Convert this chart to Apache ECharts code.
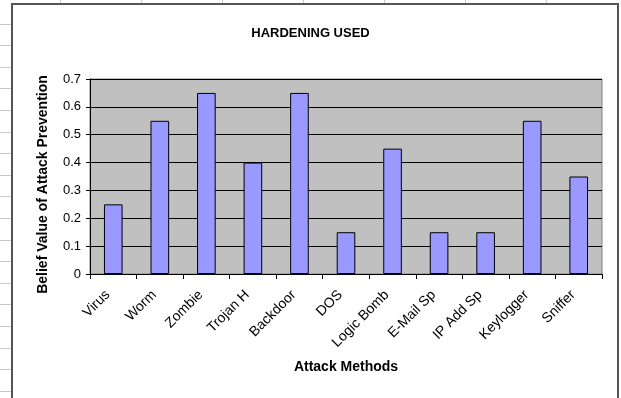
<!DOCTYPE html>
<html>
<head>
<meta charset="utf-8">
<script src="https://cdn.jsdelivr.net/npm/echarts@6/dist/echarts.min.js"></script>
<style>
  html, body { margin: 0; padding: 0; background: #fff; }
  #sheet { position: absolute; left: 0; top: 0; width: 621px; height: 398px; overflow: hidden;
    background:
      repeating-linear-gradient(to bottom, transparent 0, transparent 20.6px, #c8c8c8 20.6px, #c8c8c8 21.6px) 0 3px / 11px 398px no-repeat,
      #fff; }
  #topstrip { position: absolute; left: 0; top: 0; width: 621px; height: 3px;
    background: repeating-linear-gradient(to right, transparent 0, transparent 80px, #c8c8c8 80px, #c8c8c8 81px) -20px 0 / 700px 3px no-repeat, #fff; }
  #frame { position: absolute; left: 11px; top: 3px; width: 604px; height: 400px;
    border-left: 2px solid #555; border-top: 2px solid #555; border-right: 2px solid #555; background: #fff; }
  #chart { position: absolute; left: 0; top: 0; width: 621px; height: 398px; }
</style>
</head>
<body>
<div id="sheet"></div>
<div id="topstrip"></div>
<div id="frame"></div>
<div id="chart"></div>
<script>
const categories = ['Virus', 'Worm', 'Zombie', 'Trojan H', 'Backdoor', 'DOS', 'Logic Bomb', 'E-Mail Sp', 'IP Add Sp', 'Keylogger', 'Sniffer'];
const beliefValues = [0.25, 0.55, 0.65, 0.4, 0.65, 0.15, 0.45, 0.15, 0.15, 0.55, 0.35];
const yTicks = ['0', '0.1', '0.2', '0.3', '0.4', '0.5', '0.6', '0.7'];

const chart = echarts.init(document.getElementById('chart'), null, { renderer: 'canvas' });
const font = 'Liberation Sans, Arial, sans-serif';
chart.setOption({
  backgroundColor: 'transparent',
  animation: false,
  title: {
    text: 'HARDENING USED',
    left: 'center', top: 22,
    textStyle: { fontFamily: font, fontSize: 13, fontWeight: 'bold', color: '#000' }
  },
  grid: {
    left: 90, top: 79, right: 19, bottom: 124,
    show: true, backgroundColor: '#C0C0C0', borderColor: '#808080', borderWidth: 1
  },
  xAxis: {
    type: 'category',
    data: categories,
    name: 'Attack Methods',
    nameLocation: 'middle',
    nameGap: 86,
    nameTextStyle: { fontFamily: font, fontSize: 14, fontWeight: 'bold', color: '#000' },
    axisLine: { lineStyle: { color: '#000', width: 1 } },
    axisTick: { show: true, alignWithLabel: false, interval: 0, length: 5, lineStyle: { color: '#000' } },
    axisLabel: { interval: 0, rotate: 45, margin: 13, padding: [0, 8, 0, 0], fontFamily: font, fontSize: 14, color: '#000' }
  },
  yAxis: {
    type: 'value',
    min: 0, max: 0.7, interval: 0.1,
    name: 'Belief Value of Attack Prevention',
    nameLocation: 'middle',
    nameGap: 40,
    nameTextStyle: { fontFamily: font, fontSize: 14, fontWeight: 'bold', color: '#000', padding: [0, 16, 0, 0] },
    axisLine: { show: true, lineStyle: { color: '#000', width: 1 } },
    axisTick: { show: true, length: 4, lineStyle: { color: '#000' } },
    axisLabel: {
      margin: 9, fontFamily: font, fontSize: 13, color: '#000',
      formatter: function (v) { return yTicks[Math.round(v * 10)]; }
    },
    splitLine: { show: true, lineStyle: { color: '#000', width: 1 } }
  },
  series: [{
    type: 'bar',
    data: beliefValues,
    barCategoryGap: '60%',
    itemStyle: { color: '#9999FF', borderColor: '#000', borderWidth: 1 }
  }]
});
</script>
</body>
</html>
